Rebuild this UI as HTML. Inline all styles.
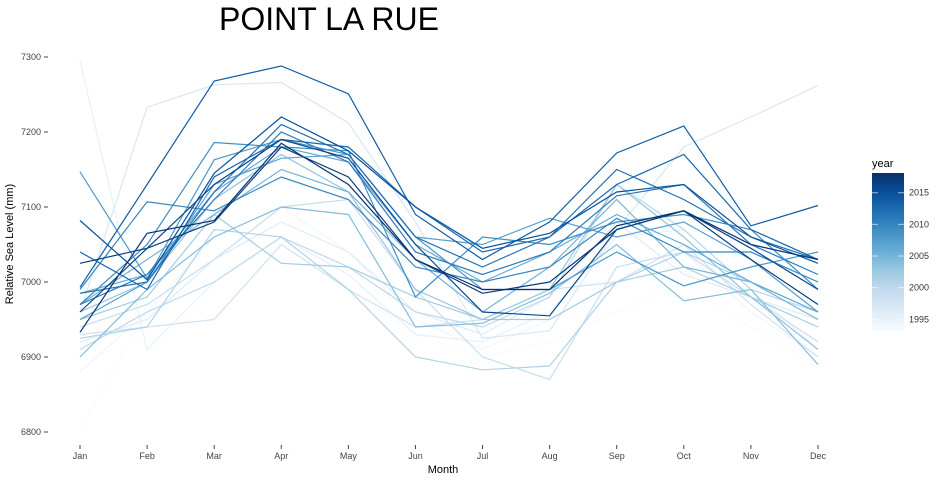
<!DOCTYPE html>
<html><head><meta charset="utf-8"><style>
body{margin:0;background:#fff;font-family:"Liberation Sans",Arial,sans-serif}
svg text{font-family:"Liberation Sans",Arial,sans-serif}
</style></head><body>
<svg id="chart" width="940" height="480">
<text x="329" y="30" font-size="32" text-anchor="middle" fill="#000">POINT LA RUE</text>
<g id="yaxis"></g>
<g id="xaxis"></g>
<g id="lines"></g>
<text x="443" y="473" font-size="11" text-anchor="middle" fill="#000">Month</text>
<text transform="translate(13,244) rotate(-90)" font-size="11" text-anchor="middle" fill="#000">Relative Sea Level (mm)</text>
<g>
<text x="872" y="167" font-size="11" fill="#000">year</text>
<defs><linearGradient id="gr" x1="0" y1="1" x2="0" y2="0">
<stop offset="0" stop-color="#f7fbff"/><stop offset="0.125" stop-color="#deebf7"/><stop offset="0.25" stop-color="#c6dbef"/><stop offset="0.375" stop-color="#9ecae1"/><stop offset="0.5" stop-color="#6baed6"/><stop offset="0.625" stop-color="#4292c6"/><stop offset="0.75" stop-color="#2171b5"/><stop offset="0.875" stop-color="#08519c"/><stop offset="1" stop-color="#08306b"/>
</linearGradient></defs>
<rect x="872" y="173" width="32" height="158" fill="url(#gr)"/>
<g id="legticks"></g>
</g>
</svg>
<script>
const months=["Jan","Feb","Mar","Apr","May","Jun","Jul","Aug","Sep","Oct","Nov","Dec"];
const years=[1993,1994,1995,1996,1997,1998,1999,2000,2001,2002,2003,2004,2005,2006,2007,2008,2009,2010,2011,2012,2013,2014,2015,2016,2017,2018];
const values=[
[6803,6960,7010,7050,6990,6930,6900,6920,6960,7000,6940,6885],
[6880,6960,7060,7100,7040,6950,6910,6950,7000,7040,6960,6900],
[7295,6910,7000,7060,7010,6930,6920,6960,7060,7070,6990,6910],
[6920,6950,7030,7080,7040,6960,6930,6980,7080,7010,6980,6950],
[6960,7233,7263,7266,7212,7080,6925,6935,7070,7180,7220,7262],
[6930,6940,6950,7050,6990,6940,6950,6990,7000,7050,6970,6900],
[6940,6970,7030,7100,7110,6990,6900,6870,7020,7040,6980,6920],
[6910,6960,7000,7060,7020,6960,6940,6980,7130,7070,6990,6960],
[6925,6940,7070,7060,6990,6900,6883,6888,7000,7040,7000,6960],
[6950,6980,7090,7025,7020,6980,6950,6950,7000,7020,6980,6940],
[6960,7000,7110,7170,7120,6990,6950,6990,7130,7060,6980,6910],
[6900,6990,7060,7100,7090,6940,6945,6985,7050,6975,6990,6890],
[6970,7030,7090,7150,7120,7030,6960,7020,7110,7020,7000,6950],
[6985,7010,7120,7180,7160,7050,7000,7040,7090,7050,7000,6960],
[6950,7000,7130,7165,7170,7060,7050,7085,7060,7080,7030,6960],
[7147,7005,7163,7190,7170,7060,6990,6990,7040,6995,7020,7040],
[6970,7050,7186,7180,7175,6980,7060,7050,7080,7090,7070,6990],
[6990,7107,7095,7140,7110,7020,7000,7020,7085,7040,7040,7000],
[6970,7010,7110,7200,7160,7040,7010,7040,7115,7130,7050,7010],
[6985,7000,7120,7210,7170,7060,7020,7060,7150,7110,7060,7030],
[7040,6990,7140,7190,7180,7100,7040,7060,7130,7170,7070,7030],
[6993,7130,7268,7288,7251,7090,7030,7080,7172,7208,7075,7102],
[7082,7003,7145,7220,7175,7100,7045,7065,7120,7130,7060,7025],
[6960,7045,7130,7190,7165,7050,6960,6955,7070,7095,7045,6990],
[7025,7045,7080,7180,7140,7030,6985,7000,7070,7095,7030,6970],
[6933,7065,7082,7185,7130,7030,6990,6990,7075,7095,7050,7030]
];
const yTicks=[6800,6900,7000,7100,7200,7300];
const legendTicks=[1995,2000,2005,2010,2015];
const NS="http://www.w3.org/2000/svg";
const xS=i=>80+i*(818-80)/11;
const yS=v=>432-(v-6800)*0.75;
const pal=["#f7fbff","#deebf7","#c6dbef","#9ecae1","#6baed6","#4292c6","#2171b5","#08519c","#08306b"];
function hex(h){return [1,3,5].map(i=>parseInt(h.substr(i,2),16));}
function colorFor(yr){let t=(yr-1993)/(2018.2-1993);t=Math.max(0,Math.min(1,t))*(pal.length-1);const i=Math.min(Math.floor(t),pal.length-2),f=t-i;const a=hex(pal[i]),b=hex(pal[i+1]);return "rgb("+a.map((c,k)=>Math.round(c+(b[k]-c)*f)).join(",")+")";}
const ya=document.getElementById("yaxis");
yTicks.forEach(v=>{
 const t=document.createElementNS(NS,"text");
 
 
 t.setAttribute("x",41);t.setAttribute("y",yS(v)+3);t.setAttribute("font-size","9");t.setAttribute("text-anchor","end");t.setAttribute("fill","#444");t.textContent=v;ya.appendChild(t);
 const l=document.createElementNS(NS,"line");
 
 
 l.setAttribute("x1",44);l.setAttribute("x2",48);l.setAttribute("y1",yS(v));l.setAttribute("y2",yS(v));l.setAttribute("stroke","#444");ya.appendChild(l);
});
const xa=document.getElementById("xaxis");
months.forEach((m,i)=>{
 const t=document.createElementNS(NS,"text");
 
 
 t.setAttribute("x",xS(i));t.setAttribute("y",459);t.setAttribute("font-size","9");t.setAttribute("text-anchor","middle");t.setAttribute("fill","#444");t.textContent=m;xa.appendChild(t);
 const l=document.createElementNS(NS,"line");
 
 
 l.setAttribute("x1",xS(i));l.setAttribute("x2",xS(i));l.setAttribute("y1",445);l.setAttribute("y2",449);l.setAttribute("stroke","#444");xa.appendChild(l);
});
const lg=document.getElementById("lines");
years.forEach((yr,k)=>{
 const p=document.createElementNS(NS,"polyline");
 
 
 p.setAttribute("points",values[k].map((v,i)=>xS(i).toFixed(1)+","+yS(v).toFixed(1)).join(" "));
 p.setAttribute("fill","none");p.setAttribute("stroke",colorFor(yr));p.setAttribute("stroke-width","1.2");
 lg.appendChild(p);
});
const lt=document.getElementById("legticks");
const ly=yr=>319.3-(yr-1995)*6.33;
legendTicks.forEach(yr=>{
 const t=document.createElementNS(NS,"text");
 
 
 t.setAttribute("x",909);t.setAttribute("y",ly(yr)+3);t.setAttribute("font-size","9");t.setAttribute("fill","#333");t.textContent=yr;lt.appendChild(t);
 [[872,878],[898,904]].forEach(([a,b])=>{
  const l=document.createElementNS(NS,"line");
  
  
  l.setAttribute("x1",a);l.setAttribute("x2",b);l.setAttribute("y1",ly(yr));l.setAttribute("y2",ly(yr));l.setAttribute("stroke","#fff");l.setAttribute("stroke-opacity","0.6");lt.appendChild(l);
 });
});
</script>
</body></html>
